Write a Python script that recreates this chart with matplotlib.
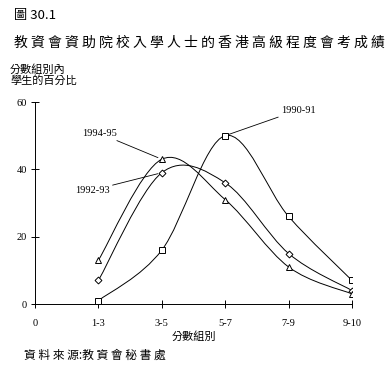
import numpy as np
import matplotlib
matplotlib.use("Agg")
from matplotlib import pyplot as plt
from matplotlib.path import Path
from matplotlib.patches import PathPatch

plt.rcParams['font.family'] = ['Noto Sans CJK TC', 'DejaVu Sans']

# 分數組別
groups = ['0', '1-3', '3-5', '5-7', '7-9', '9-10']
x_pos = [1, 2, 3, 4, 5]
y_1990 = [1, 16, 50, 26, 7]
y_1992 = [7, 39, 36, 15, 4]
y_1994 = [13, 43, 31, 11, 3]

def smooth_path(xs, ys):
    # Catmull-Rom -> cubic Bezier (like the spreadsheet "smoothed line")
    p = np.column_stack([xs, ys]).astype(float)
    ext = np.vstack([p[0], p, p[-1]])
    verts = [p[0]]
    codes = [Path.MOVETO]
    for i in range(1, len(ext) - 2):
        c1 = ext[i] + (ext[i + 1] - ext[i - 1]) / 6
        c2 = ext[i + 1] - (ext[i + 2] - ext[i]) / 6
        verts += [c1, c2, ext[i + 1]]
        codes += [Path.CURVE4] * 3
    return Path(verts, codes)

fig = plt.figure(figsize=(3.9, 3.75), dpi=100)
ax = fig.add_axes([0.0897, 0.1893, 0.8129, 0.5387])

for ys, mk, ms in [(y_1990, 's', 5), (y_1992, 'D', 3.5), (y_1994, '^', 5)]:
    ax.add_patch(PathPatch(smooth_path(x_pos, ys), fc='none', ec='black', lw=0.7))
    ax.plot(x_pos, ys, ls='none', marker=mk, ms=ms, mfc='white', mec='black', mew=0.7, zorder=3)

ax.set_xlim(0, 5)
ax.set_ylim(0, 60)
ax.set_xticks(range(6))
ax.set_xticklabels(groups, family='Liberation Serif', fontsize=7.5)
ax.set_yticks([0, 20, 40, 60])
ax.set_yticklabels(['0', '20', '40', '60'], family='Liberation Serif', fontsize=7.5)
ax.tick_params(axis='x', direction='inout', length=6, width=0.7, pad=8)
ax.tick_params(axis='y', direction='inout', length=6, width=0.7, pad=3)
for s in ['top', 'right']:
    ax.spines[s].set_visible(False)
for s in ['left', 'bottom']:
    ax.spines[s].set_linewidth(0.7)

lbl = dict(family='Liberation Serif', fontsize=7.5)
ax.annotate('1990-91', xy=(3, 50), xytext=(3.88, 57.6), ha='left', va='center',
            arrowprops=dict(arrowstyle='-', lw=0.6, shrinkA=0, shrinkB=3), **lbl)
ax.annotate('1994-95', xy=(2, 43), xytext=(1.29, 50.7), ha='right', va='center',
            arrowprops=dict(arrowstyle='-', lw=0.6, shrinkA=0, shrinkB=3), **lbl)
ax.annotate('1992-93', xy=(2, 39), xytext=(1.18, 33.8), ha='right', va='center',
            arrowprops=dict(arrowstyle='-', lw=0.6, shrinkA=0, shrinkB=3), **lbl)

ax.set_xlabel('分數組別', fontsize=8, labelpad=2)

fig.text(14 / 390, 1 - 15 / 375, '圖 30.1', fontsize=9.5, va='center', ha='left')
fig.text(14 / 390, 1 - 43 / 375, ' '.join('教資會資助院校入學人士的香港高級程度會考成績'),
         fontsize=10, va='center', ha='left')
fig.text(10 / 390, 1 - 75 / 375, '分數組別內\n學生的百分比', fontsize=8, va='center', ha='left',
         linespacing=1.05)
fig.text(24 / 390, 1 - 355 / 375, ' '.join('資料來源') + ':' + ' '.join('教資會秘書處'),
         fontsize=8.5, va='center', ha='left')

fig.savefig('out.png', dpi=100)
